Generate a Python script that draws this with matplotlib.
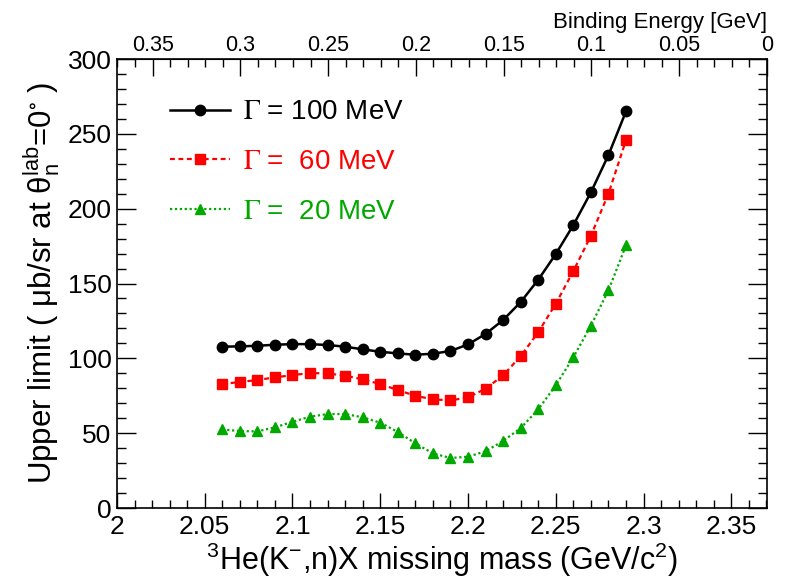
import matplotlib
matplotlib.use("Agg")
import matplotlib.pyplot as plt
from matplotlib.ticker import MultipleLocator

plt.rcParams['font.family'] = ['Liberation Sans', 'DejaVu Sans']
plt.rcParams['mathtext.fontset'] = 'stix'

mass = [2.06, 2.07, 2.08, 2.09, 2.10, 2.11, 2.12, 2.13, 2.14, 2.15, 2.16, 2.17,
        2.18, 2.19, 2.20, 2.21, 2.22, 2.23, 2.24, 2.25, 2.26, 2.27, 2.28, 2.29]
ul_100 = [107.8, 108.0, 108.4, 109.1, 109.5, 109.5, 108.9, 107.8, 106.0, 104.4, 103.3, 102.4,
          103.1, 104.9, 109.3, 116.3, 125.6, 137.6, 152.5, 169.7, 189.0, 210.9, 235.8, 265.0]
ul_60 = [82.8, 84.2, 85.5, 87.3, 88.8, 90.2, 89.9, 88.4, 86.0, 82.8, 78.8, 75.0,
         72.6, 71.9, 73.9, 79.7, 88.6, 101.5, 117.4, 136.5, 158.3, 181.9, 210.0, 245.8]
ul_20 = [52.5, 51.4, 51.2, 53.9, 57.6, 61.0, 62.8, 62.8, 60.6, 57.0, 50.8, 43.2,
         36.5, 33.4, 34.3, 37.9, 44.8, 53.4, 65.9, 82.0, 100.7, 121.8, 145.4, 175.5]
labels = [r'$\Gamma$ = 100 MeV', r'$\Gamma$ =  60 MeV', r'$\Gamma$ =  20 MeV']
x_ticks = [2.0, 2.05, 2.1, 2.15, 2.2, 2.25, 2.3, 2.35]
x_ticklabels = ['2', '2.05', '2.1', '2.15', '2.2', '2.25', '2.3', '2.35']
be_ticks = [0.35, 0.3, 0.25, 0.2, 0.15, 0.1, 0.05, 0.0]
be_ticklabels = ['0.35', '0.3', '0.25', '0.2', '0.15', '0.1', '0.05', '0']
M_TH = 2.3703  # K- + p + p threshold

GREEN = '#00a800'

fig = plt.figure(figsize=(7.85, 5.79), dpi=100)
ax = fig.add_axes([0.149, 0.1226, 0.828, 0.7755])

ax.plot(mass, ul_100, color='black', ls='-', lw=1.8, marker='o', ms=7.5, label=labels[0])
ax.plot(mass, ul_60, color='red', ls=(0, (2.2, 1.6)), lw=1.6, marker='s', ms=7, label=labels[1])
ax.plot(mass, ul_20, color=GREEN, ls=(0, (1, 1.2)), lw=1.6, marker='^', ms=7.5, label=labels[2])

ax.set_xlim(2.0, M_TH)
ax.set_ylim(0, 300)
ax.set_xticks(x_ticks)
ax.set_xticklabels(x_ticklabels)
ax.xaxis.set_minor_locator(MultipleLocator(0.01))
ax.yaxis.set_major_locator(MultipleLocator(50))
ax.yaxis.set_minor_locator(MultipleLocator(10))

ax.tick_params(axis='x', which='major', direction='in', length=11, width=1, labelsize=19, pad=5, top=False)
ax.tick_params(axis='x', which='minor', direction='in', length=5.5, width=1, top=False)
ax.tick_params(axis='y', which='major', direction='in', length=14, width=1, labelsize=19, pad=4, right=True)
ax.tick_params(axis='y', which='minor', direction='in', length=6.5, width=1, right=True)
for s in ax.spines.values():
    s.set_linewidth(1.2)

ax.set_xlabel(r'$\mathregular{^{3}}$He(K$\mathregular{^{-}}$,n)X missing mass (GeV/c$\mathregular{^{2}}$)',
              fontsize=22, labelpad=1)
ax.set_ylabel(r'Upper limit ( $\mathregular{\mu}$b/sr at $\mathregular{\theta_{n}^{lab}}$=0$\mathregular{^{\circ}}$ )',
              fontsize=22.5, labelpad=4)

f = lambda x: M_TH - x
sec = ax.secondary_xaxis('top', functions=(f, f))
sec.set_xticks(be_ticks)
sec.set_xticklabels(be_ticklabels)
sec.xaxis.set_minor_locator(MultipleLocator(0.01))
sec.tick_params(axis='x', which='major', direction='in', length=12, width=1, labelsize=15.5, pad=2)
sec.tick_params(axis='x', which='minor', direction='in', length=6, width=1)
sec.set_xlabel('Binding Energy [GeV]', fontsize=16, loc='right', labelpad=5)

leg = ax.legend(loc='upper left', bbox_to_anchor=(0.065, 0.935), frameon=False, fontsize=20,
                handlelength=2.16, handletextpad=0.47, labelspacing=0.85, borderaxespad=0)
for txt, c in zip(leg.get_texts(), ['black', 'red', GREEN]):
    txt.set_color(c)

fig.savefig('out.png', dpi=100)
